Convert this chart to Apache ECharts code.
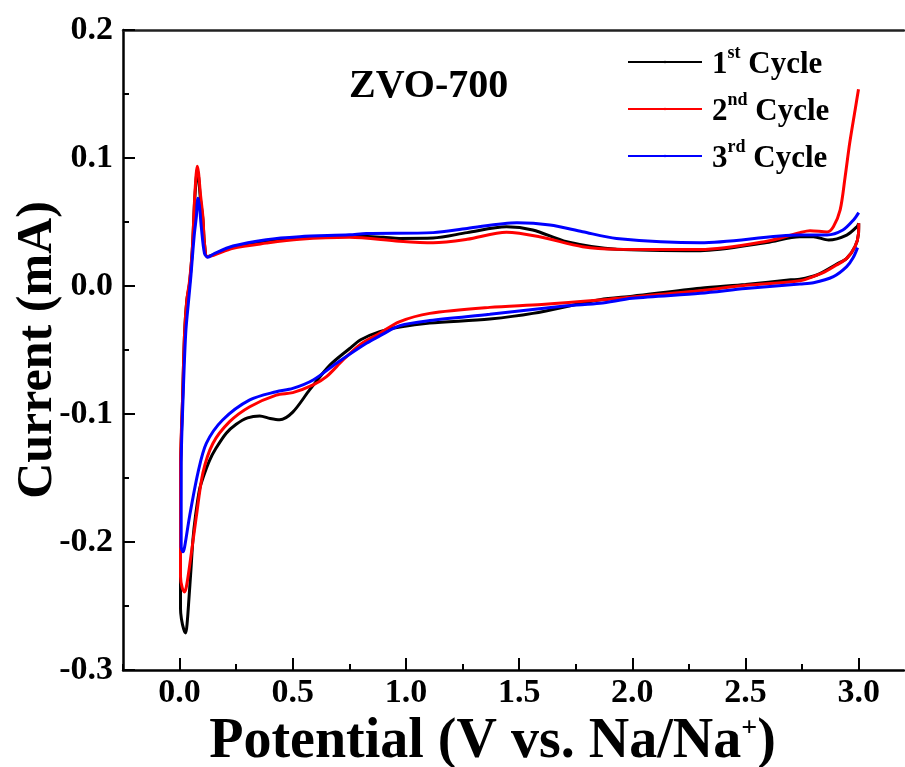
<!DOCTYPE html>
<html>
<head>
<meta charset="utf-8">
<script src="https://cdn.jsdelivr.net/npm/echarts@6/dist/echarts.min.js"></script>
<style>
	html, body { margin: 0; padding: 0; background: #fff; }
	#chart { width: 905px; height: 767px; }
</style>
</head>
<body>
<div id="chart"></div>
<script>
// tick positions (V)
const xMajor = [0, 0.5, 1, 1.5, 2, 2.5, 3]
const xMinor = [-0.25, 0.25, 0.75, 1.25, 1.75, 2.25, 2.75]

const seriesNames = ["1st Cycle", "2nd Cycle", "3rd Cycle"]

// [potential V, current mA], cathodic sweep 3.0 -> 0 then anodic sweep back to 3.0
const cycle1 = [
	[3.0, 0.049], [2.999, 0.041], [2.984, 0.031], [2.947, 0.0216], [2.903, 0.0172], [2.815, 0.0086],
	[2.74, 0.0052], [2.70, 0.0048], [2.5, 0.0012], [2.30, -0.0018], [2.0, -0.008], [1.857, -0.0107],
	[1.56, -0.0214], [1.37, -0.0258], [1.105, -0.029], [0.973, -0.032], [0.884, -0.0357], [0.80, -0.042],
	[0.75, -0.049], [0.663, -0.062], [0.575, -0.081], [0.50, -0.0985], [0.442, -0.1045], [0.40, -0.1035],
	[0.354, -0.1015], [0.30, -0.103], [0.25, -0.108], [0.206, -0.115], [0.16, -0.127], [0.133, -0.136],
	[0.105, -0.149], [0.088, -0.159], [0.07, -0.18], [0.059, -0.198], [0.05, -0.222], [0.041, -0.245],
	[0.034, -0.262], [0.027, -0.271], [0.018, -0.268], [0.008, -0.26], [0.004, -0.252],
	[0.004, -0.20], [0.005, -0.14], [0.013, -0.089], [0.022, -0.037], [0.032, -0.011], [0.044, 0.002],
	[0.056, 0.028], [0.066, 0.065], [0.073, 0.083], [0.078, 0.091], [0.084, 0.085], [0.092, 0.068],
	[0.103, 0.052], [0.11, 0.033], [0.122, 0.0229], [0.15, 0.0245], [0.236, 0.0307], [0.383, 0.035],
	[0.53, 0.0375], [0.75, 0.039], [0.90, 0.038], [0.97, 0.0372], [1.12, 0.0375], [1.27, 0.0417],
	[1.444, 0.0463], [1.56, 0.0438], [1.71, 0.0346], [1.93, 0.0287], [2.30, 0.0276], [2.594, 0.034],
	[2.74, 0.0385], [2.80, 0.0385], [2.867, 0.0359], [2.947, 0.0398], [2.992, 0.0463], [3.0, 0.049]
]

const cycle2 = [
	[3.0, 0.049], [2.999, 0.041], [2.984, 0.031], [2.947, 0.0216], [2.903, 0.0165], [2.85, 0.011],
	[2.815, 0.0085], [2.74, 0.0041], [2.5, 0.0005], [2.30, -0.0037], [2.0, -0.0085], [1.857, -0.011],
	[1.6, -0.0145], [1.37, -0.0167], [1.105, -0.0214], [0.97, -0.028], [0.884, -0.037], [0.80, -0.0455],
	[0.722, -0.0578], [0.649, -0.0708], [0.59, -0.0773], [0.50, -0.0833], [0.427, -0.0852], [0.31, -0.0943],
	[0.221, -0.106], [0.147, -0.123], [0.103, -0.146], [0.074, -0.18], [0.044, -0.219], [0.030, -0.235],
	[0.022, -0.239], [0.012, -0.236], [0.004, -0.227],
	[0.004, -0.141], [0.013, -0.089], [0.022, -0.037], [0.032, -0.011], [0.044, 0.004], [0.056, 0.028],
	[0.066, 0.067], [0.073, 0.087], [0.078, 0.0935], [0.084, 0.088], [0.092, 0.072], [0.103, 0.054],
	[0.11, 0.033], [0.122, 0.0229], [0.15, 0.024], [0.236, 0.0295], [0.383, 0.0335], [0.53, 0.0365],
	[0.75, 0.038], [0.97, 0.035], [1.12, 0.0338], [1.27, 0.0365], [1.444, 0.042], [1.59, 0.0385],
	[1.78, 0.0307], [1.93, 0.0287], [2.30, 0.0285], [2.594, 0.035], [2.74, 0.0417], [2.785, 0.0432],
	[2.86, 0.0422], [2.888, 0.0463], [2.918, 0.0594], [2.94, 0.0854], [2.96, 0.1115], [2.984, 0.1375],
	[2.999, 0.1537]
]

const cycle3 = [
	[2.995, 0.030], [2.975, 0.022], [2.947, 0.0151], [2.888, 0.0073], [2.80, 0.0025], [2.74, 0.0016],
	[2.5, -0.002], [2.30, -0.0057], [2.0, -0.0096], [1.857, -0.0135], [1.71, -0.0155], [1.37, -0.0221],
	[1.105, -0.027], [0.973, -0.031], [0.884, -0.039], [0.825, -0.0448], [0.693, -0.0604], [0.59, -0.0734],
	[0.50, -0.080], [0.427, -0.0826], [0.31, -0.089], [0.19, -0.1047], [0.118, -0.123], [0.081, -0.146],
	[0.044, -0.18], [0.022, -0.204], [0.015, -0.2076], [0.007, -0.204],
	[0.007, -0.141], [0.015, -0.089], [0.027, -0.037], [0.04, -0.011], [0.05, 0.008], [0.059, 0.028],
	[0.066, 0.042], [0.074, 0.054], [0.081, 0.0685], [0.088, 0.062], [0.096, 0.046], [0.11, 0.0255],
	[0.125, 0.0224], [0.15, 0.025], [0.236, 0.0312], [0.383, 0.0362], [0.53, 0.0385], [0.75, 0.040],
	[0.825, 0.041], [1.12, 0.0417], [1.27, 0.045], [1.49, 0.0495], [1.636, 0.0477], [1.78, 0.0424],
	[1.93, 0.0372], [2.30, 0.0338], [2.74, 0.0398], [2.86, 0.0398], [2.93, 0.0437], [2.977, 0.0516],
	[3.0, 0.0573]
]

const font = "Liberation Serif"
const xMin = -0.25, xMax = 3.2

function renderChart() {
	const chart = echarts.init(document.querySelector("#chart"))
	const line = (name, data, color) => ({
		name: name,
		type: "line",
		data: data,
		symbol: "none",
		legendIcon: "rect",
		smooth: 0.3,
		color: color,
		lineStyle: { color: color, width: 3 }
	})
	const plotBox = { left: 123, top: 30, width: 781, height: 640, outerBoundsMode: "none", containLabel: false }
	chart.setOption({
		animation: false,
		backgroundColor: "#fff",
		title: {
			text: "ZVO-700",
			left: 344,
			top: 62,
			textStyle: { fontFamily: font, fontSize: 40, fontWeight: "bold", color: "#000" }
		},
		legend: {
			data: seriesNames,
			orient: "vertical",
			left: 622,
			top: 39,
			itemWidth: 74,
			itemHeight: 3,
			itemGap: 11,
			formatter: function (name) {
				const m = name.match(/^(\d)(\w+) (.*)$/)
				return "{n|" + m[1] + "}{s|" + m[2] + "}{n| " + m[3] + "}"
			},
			textStyle: {
				padding: [0, 0, 0, 5],
				rich: {
					n: { fontFamily: font, fontSize: 31, fontWeight: "bold", color: "#000", lineHeight: 36, verticalAlign: "bottom" },
					s: { fontFamily: font, fontSize: 18, fontWeight: "bold", color: "#000", lineHeight: 20, verticalAlign: "top" }
				}
			}
		},
		grid: [Object.assign({}, plotBox), Object.assign({}, plotBox)],
		xAxis: [
			{
				type: "value",
				gridIndex: 0,
				min: xMin,
				max: xMax,
				position: "bottom",
				axisLine: { show: true, onZero: false, lineStyle: { color: "#000", width: 2.5 } },
				axisTick: { show: true, inside: true, length: 12, customValues: xMajor, lineStyle: { color: "#000", width: 2 } },
				axisLabel: {
					customValues: xMajor,
					formatter: v => v.toFixed(1),
					fontFamily: font, fontSize: 34, fontWeight: "bold", color: "#000", margin: 6
				},
				splitLine: { show: false },
				name: "Potential (V vs. Na/Na{s|+})",
				nameLocation: "middle",
				nameGap: 42,
				nameTextStyle: {
					fontFamily: font, fontSize: 56, fontWeight: "bold", color: "#000",
					padding: [0, 42, 0, 0],
					rich: {
						s: { fontFamily: font, fontSize: 28, fontWeight: "bold", color: "#000", verticalAlign: "top", lineHeight: 22 }
					}
				}
			},
			{
				type: "value",
				gridIndex: 0,
				min: xMin,
				max: xMax,
				position: "top",
				axisLine: { show: true, onZero: false, lineStyle: { color: "#222", width: 2.5 } },
				axisTick: { show: false },
				axisLabel: { show: false },
				splitLine: { show: false }
			},
			{
				type: "value",
				gridIndex: 1,
				min: xMin,
				max: xMax,
				position: "bottom",
				axisLine: { show: false, onZero: false },
				axisTick: { show: true, inside: true, length: 6, customValues: xMinor, lineStyle: { color: "#000", width: 2 } },
				axisLabel: { show: false },
				splitLine: { show: false }
			}
		],
		yAxis: [
			{
				type: "value",
				gridIndex: 0,
				min: -0.3,
				max: 0.2,
				interval: 0.1,
				axisLine: { show: true, onZero: false, lineStyle: { color: "#000", width: 2.5 } },
				axisTick: { show: true, inside: true, length: 12, lineStyle: { color: "#000", width: 2 } },
				minorTick: { show: true, splitNumber: 2, length: 6, lineStyle: { color: "#000", width: 2 } },
				axisLabel: {
					formatter: v => v.toFixed(1),
					fontFamily: font, fontSize: 34, fontWeight: "bold", color: "#000", margin: 10
				},
				splitLine: { show: false },
				minorSplitLine: { show: false },
				name: "Current (mA)",
				nameLocation: "middle",
				nameGap: 60,
				nameMoveOverlap: false,
				nameRotate: 90,
				nameTextStyle: { fontFamily: font, fontSize: 50, fontWeight: "bold", color: "#000" }
			},
			{ type: "value", gridIndex: 1, min: -0.3, max: 0.2, show: false }
		],
		series: [
			line(seriesNames[0], cycle1, "#000000"),
			line(seriesNames[1], cycle2, "#ff0000"),
			line(seriesNames[2], cycle3, "#0000ff")
		]
	})
}

renderChart()
</script>
</body>
</html>
